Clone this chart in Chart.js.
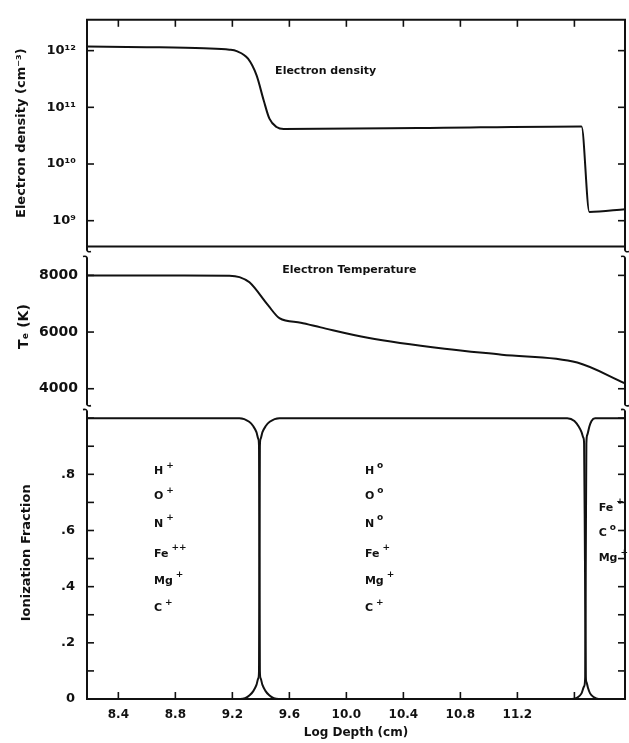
<!DOCTYPE html>
<html>
<head>
<meta charset="utf-8">
<script src="https://cdn.jsdelivr.net/npm/chart.js@4.4.1/dist/chart.umd.min.js"></script>
<style>
  html, body { margin: 0; padding: 0; background: #fff; }
</style>
</head>
<body>
<canvas id="chart" width="629" height="743"></canvas>
<script>
const ink = "#111";

/* ===== x axis: log depth ===== */
const depthTicks = [8.4, 8.8, 9.2, 9.6, 10.0, 10.4, 10.8, 11.2, 11.6];
const depthLabels = ["8.4", "8.8", "9.2", "9.6", "10.0", "10.4", "10.8", "11.2", ""];

/* ===== electron density ===== */
const densityDepth  = [8.18, 8.6, 9.0, 9.18, 9.23, 9.31, 9.37, 9.42, 9.46, 9.51, 9.56, 10.5, 11.65, 11.705, 11.955];
const densityValues = [1.18e12, 1.15e12, 1.1e12, 1.04e12, 9.8e11, 7.2e11, 3.65e11, 1.32e11, 6.3e10, 4.5e10, 4.15e10, 4.3e10, 4.6e10, 1.43e9, 1.59e9];
const densityTicks  = [1e9, 1e10, 1e11, 1e12];
const densityLabels = ["10⁹", "10¹⁰", "10¹¹", "10¹²"];

/* ===== electron temperature ===== */
const tempDepth  = [8.18, 8.8, 9.18, 9.25, 9.32, 9.45, 9.53, 9.68, 9.82, 10.15, 10.69, 11.09, 11.62, 11.955];
const tempValues = [7998, 7998, 7990, 7940, 7755, 6948, 6492, 6330, 6165, 5800, 5410, 5200, 4923, 4190];
const tempTicks  = [4000, 6000, 8000];

/* ===== ionization fractions ===== */
const ionizedDepth = [8.18, 9.25, 9.318, 9.347, 9.369, 9.382, 9.387, 9.39, 9.393, 9.398, 9.411, 9.432, 9.459, 9.491, 9.525, 11.955];
const ionizedFrac  = [1, 1, 0.987, 0.971, 0.95, 0.926, 0.9, 0.5, 0.1, 0.074, 0.05, 0.029, 0.013, 0.003, 0, 0];

const neutralDepth = [8.18, 9.255, 9.289, 9.321, 9.348, 9.369, 9.382, 9.387, 9.39, 9.393, 9.398, 9.411, 9.433, 9.462, 9.53,
                      11.55, 11.6, 11.63, 11.65, 11.663, 11.668, 11.674, 11.68, 11.685, 11.695, 11.71, 11.735, 11.77, 11.955];
const neutralFrac  = [0, 0, 0.003, 0.013, 0.029, 0.05, 0.074, 0.1, 0.5, 0.9, 0.926, 0.95, 0.971, 0.987, 1,
                      1, 0.99, 0.97, 0.95, 0.93, 0.91, 0.5, 0.08, 0.06, 0.04, 0.02, 0.007, 0, 0];

const deepDepth = [8.18, 11.58, 11.62, 11.65, 11.668, 11.676, 11.68, 11.684, 11.69, 11.705, 11.72, 11.745, 11.955];
const deepFrac  = [0, 0, 0.005, 0.02, 0.045, 0.08, 0.5, 0.91, 0.94, 0.97, 0.99, 1, 1];

const fractionTicks = [0, 0.1, 0.2, 0.3, 0.4, 0.5, 0.6, 0.7, 0.8, 0.9, 1.0];
const fractionLabels = ["0", "", ".2", "", ".4", "", ".6", "", ".8", "", ""];

/* ===== species labels ===== */
const columnDepth = [8.65, 10.13, 11.77];
const leftIons = ["H", "O", "N", "Fe", "Mg", "C"];
const leftCharge = ["+", "+", "+", "++", "+", "+"];
const midIons = ["H", "O", "N", "Fe", "Mg", "C"];
const midCharge = ["o", "o", "o", "+", "+", "+"];
const rowFrac = [0.811, 0.722, 0.623, 0.517, 0.421, 0.322];
const rightIons = ["Fe", "C", "Mg"];
const rightCharge = ["+", "o", "+"];
const rightFrac = [0.68, 0.59, 0.50];

const toPoints = (xs, ys) => xs.map((x, i) => ({ x: x, y: ys[i] }));
const pick = (ticks, labels) => v => {
  const i = ticks.findIndex(t => Math.abs(t - v) < 1e-6 * Math.max(1, Math.abs(t)));
  return i < 0 ? "" : labels[i];
};

Chart.defaults.font.family = '"DejaVu Sans"';
Chart.defaults.color = ink;

/* ===== frame, inward ticks, axis breaks ===== */
const framePlugin = {
  id: "frame",
  afterDraw(chart) {
    const { ctx, chartArea: a, scales } = chart;
    const yd = scales.yDensity, yt = scales.yTemp, yi = scales.yIon, xs = scales.x;
    const tl = 7;
    ctx.save();
    ctx.strokeStyle = ink;
    ctx.lineWidth = 2;
    const line = (x1, y1, x2, y2) => { ctx.beginPath(); ctx.moveTo(x1, y1); ctx.lineTo(x2, y2); ctx.stroke(); };

    line(a.left - 1, a.top, a.right + 1, a.top);
    line(a.left, yd.bottom, a.right, yd.bottom);
    line(a.left - 1, a.bottom, a.right + 1, a.bottom);

    const b1 = yd.bottom, b2 = yt.bottom;
    [a.left, a.right].forEach(sx => {
      line(sx, a.top, sx, b1 + 4);
      line(sx, b1 + 11, sx, b2 - 2);
      line(sx, b2 + 4, sx, a.bottom);
      ctx.lineWidth = 1.6;
      [[b1 + 4, b1 + 11], [b2 - 2, b2 + 4]].forEach(([e, s]) => {
        ctx.beginPath(); ctx.moveTo(sx, e - 1); ctx.quadraticCurveTo(sx, e + 2, sx + 4, e + 1); ctx.stroke();
        ctx.beginPath(); ctx.moveTo(sx - 4, s - 1); ctx.quadraticCurveTo(sx, s - 2, sx, s + 1); ctx.stroke();
      });
      ctx.lineWidth = 2;
    });

    ctx.lineWidth = 1.6;
    xs.ticks.forEach(t => {
      const px = xs.getPixelForValue(t.value);
      line(px, a.top, px, a.top + tl);
      line(px, a.bottom, px, a.bottom - tl);
    });
    [yd, yt, yi].forEach(s => {
      s.ticks.forEach(t => {
        const py = s.getPixelForValue(t.value);
        if (py > s.bottom - 1) return;
        line(a.left, py, a.left + tl, py);
        line(a.right, py, a.right - tl, py);
      });
    });
    ctx.restore();
  }
};

/* ===== text inside the panels ===== */
function drawSpecies(ctx, px, py, base, charge) {
  ctx.font = 'bold 11px "DejaVu Sans"';
  ctx.fillText(base, px, py);
  const w = ctx.measureText(base).width;
  ctx.font = 'bold 9px "DejaVu Sans"';
  ctx.fillText(charge, px + w + 3, py - 6);
}

const notesPlugin = {
  id: "notes",
  afterDraw(chart) {
    const { ctx, scales } = chart;
    const xs = scales.x, yi = scales.yIon;
    ctx.save();
    ctx.fillStyle = ink;
    ctx.textAlign = "left";
    ctx.textBaseline = "middle";

    ctx.font = 'bold 11px "DejaVu Sans"';
    ctx.fillText("Electron density", xs.getPixelForValue(9.5), scales.yDensity.getPixelForValue(4.4e11));
    ctx.fillText("Electron Temperature", xs.getPixelForValue(9.55), scales.yTemp.getPixelForValue(8176));

    leftIons.forEach((n, i) => drawSpecies(ctx, xs.getPixelForValue(columnDepth[0]), yi.getPixelForValue(rowFrac[i]), n, leftCharge[i]));
    midIons.forEach((n, i) => drawSpecies(ctx, xs.getPixelForValue(columnDepth[1]), yi.getPixelForValue(rowFrac[i]), n, midCharge[i]));
    rightIons.forEach((n, i) => drawSpecies(ctx, xs.getPixelForValue(columnDepth[2]), yi.getPixelForValue(rightFrac[i]), n, rightCharge[i]));
    ctx.restore();
  }
};

const lineStyle = {
  borderColor: ink,
  borderWidth: 2,
  pointRadius: 0,
  fill: false,
  cubicInterpolationMode: "monotone"
};

const yCommon = {
  position: "left",
  stack: "panels",
  grid: { display: false, drawTicks: false },
  border: { display: false },
  afterFit: s => { s.width = 87; }
};

new Chart(document.getElementById("chart"), {
  type: "line",
  data: {
    datasets: [
      Object.assign({ label: "Electron density", data: toPoints(densityDepth, densityValues), yAxisID: "yDensity" }, lineStyle),
      Object.assign({ label: "Electron temperature", data: toPoints(tempDepth, tempValues), yAxisID: "yTemp" }, lineStyle),
      Object.assign({ label: "Ionized", data: toPoints(ionizedDepth, ionizedFrac), yAxisID: "yIon" }, lineStyle),
      Object.assign({ label: "Neutral", data: toPoints(neutralDepth, neutralFrac), yAxisID: "yIon" }, lineStyle),
      Object.assign({ label: "Deep", data: toPoints(deepDepth, deepFrac), yAxisID: "yIon" }, lineStyle)
    ]
  },
  options: {
    responsive: false,
    animation: false,
    layout: { padding: { top: 16, right: 4, left: 0, bottom: 0 } },
    plugins: { legend: { display: false }, tooltip: { enabled: false } },
    scales: {
      x: {
        type: "linear",
        min: 8.18,
        max: 11.955,
        grid: { display: false, drawTicks: false },
        border: { display: false },
        afterBuildTicks: s => { s.ticks = depthTicks.map(v => ({ value: v })); },
        afterFit: s => { s.height = 44; },
        ticks: {
          autoSkip: false,
          maxRotation: 0,
          padding: 9,
          font: { size: 12, weight: "bold" },
          callback: pick(depthTicks, depthLabels)
        },
        title: {
          display: true,
          text: "Log Depth (cm)",
          font: { size: 12, weight: "bold" },
          padding: { top: 0, bottom: 3 }
        }
      },
      yIon: Object.assign({}, yCommon, {
        type: "linear",
        min: 0,
        max: 1.041,
        stackWeight: 294,
        afterBuildTicks: s => { s.ticks = fractionTicks.map(v => ({ value: v })); },
        ticks: { autoSkip: false, padding: 12, font: { size: 13, weight: "bold" }, callback: pick(fractionTicks, fractionLabels) },
        title: { display: true, text: "Ionization Fraction", font: { size: 13, weight: "bold" }, padding: { top: 19, bottom: 0 } }
      }),
      yTemp: Object.assign({}, yCommon, {
        type: "linear",
        min: 3368,
        max: 9018,
        stackWeight: 161,
        afterBuildTicks: s => { s.ticks = tempTicks.map(v => ({ value: v })); },
        ticks: { autoSkip: false, padding: 9, font: { size: 14, weight: "bold" }, callback: v => String(v) },
        title: { display: true, text: "Tₑ (K)", font: { size: 14, weight: "bold" }, padding: { top: 16, bottom: 0 } }
      }),
      yDensity: Object.assign({}, yCommon, {
        type: "logarithmic",
        min: 3.5e8,
        max: 3.5e12,
        stackWeight: 228,
        afterBuildTicks: s => { s.ticks = densityTicks.map(v => ({ value: v })); },
        ticks: { autoSkip: false, padding: 11, font: { size: 13, weight: "bold" }, callback: pick(densityTicks, densityLabels) },
        title: { display: true, text: "Electron density (cm⁻³)", font: { size: 13, weight: "bold" }, padding: { top: 14, bottom: 0 } }
      })
    }
  },
  plugins: [framePlugin, notesPlugin]
});
</script>
</body>
</html>
